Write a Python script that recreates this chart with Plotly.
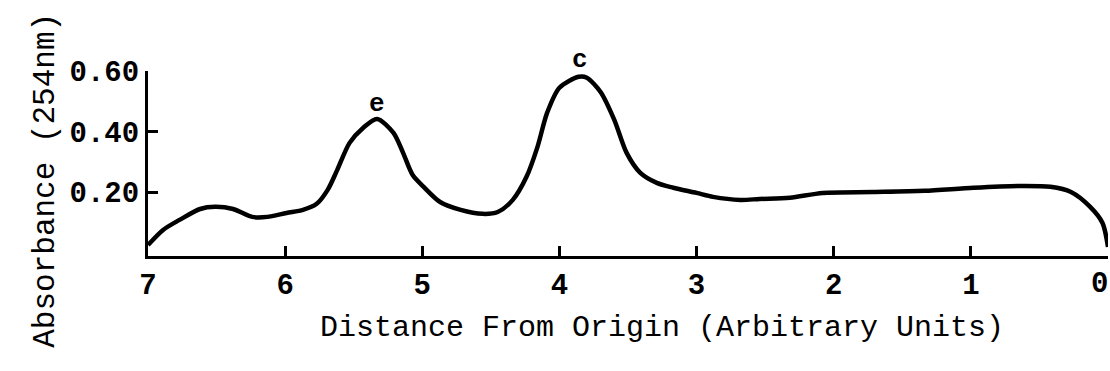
import plotly.graph_objects as go

# Densitometer trace (x = distance from origin, y = absorbance at 254 nm)
distance = [7.00, 6.89, 6.77, 6.62, 6.51, 6.38, 6.24, 6.13, 5.99, 5.87, 5.77, 5.69,
            5.62, 5.53, 5.43, 5.33, 5.21, 5.14, 5.07, 4.99, 4.87, 4.72, 4.56, 4.45,
            4.34, 4.24, 4.16, 4.09, 4.00, 3.86, 3.80, 3.70, 3.60, 3.51, 3.41, 3.29,
            3.17, 3.00, 2.88, 2.68, 2.54, 2.32, 2.08, 1.71, 1.34, 0.98, 0.62, 0.42,
            0.27, 0.13, 0.04, 0.00]
absorbance = [0.026, 0.076, 0.109, 0.145, 0.152, 0.145, 0.119, 0.119, 0.132, 0.142, 0.162, 0.208,
              0.274, 0.363, 0.413, 0.442, 0.396, 0.330, 0.257, 0.218, 0.168, 0.142, 0.129, 0.135,
              0.175, 0.251, 0.350, 0.462, 0.545, 0.581, 0.578, 0.531, 0.439, 0.330, 0.264, 0.231,
              0.215, 0.198, 0.185, 0.175, 0.178, 0.182, 0.198, 0.201, 0.205, 0.215, 0.221, 0.218,
              0.201, 0.152, 0.099, 0.020]

x_ticks = [7, 6, 5, 4, 3, 2, 1, 0]
y_ticks = [0.20, 0.40, 0.60]
y_tick_labels = ["0.20", "0.40", "0.60"]

peak_labels = ["e", "c"]
peak_x = [5.33, 3.85]
peak_y = [0.49, 0.635]

Y_RANGE = [-0.01, 0.60]
FONT = "Liberation Mono"

fig = go.Figure()
fig.add_trace(go.Scatter(
    x=distance, y=absorbance, mode="lines",
    line=dict(color="black", width=4.5, shape="spline", smoothing=0.8),
    hoverinfo="skip", showlegend=False, cliponaxis=False,
))

for lab, px, py in zip(peak_labels, peak_x, peak_y):
    fig.add_annotation(x=px, xref="x", yref="paper", yanchor="middle", xanchor="center",
                       y=(py - Y_RANGE[0]) / (Y_RANGE[1] - Y_RANGE[0]),
                       text="<b>" + lab + "</b>", showarrow=False,
                       font=dict(family=FONT, size=26, color="black"))

# the last tick label sits on the page edge
fig.add_annotation(x=x_ticks[-1], xref="x", xanchor="right", xshift=2,
                   y=-0.155, yref="paper", yanchor="middle",
                   text="<b>" + str(x_ticks[-1]) + "</b>", showarrow=False,
                   font=dict(family=FONT, size=29, color="black"))

fig.add_annotation(xref="paper", yref="paper", x=-0.127, y=0.41,
                   text="Absorbance (254nm)", textangle=-90, showarrow=False,
                   font=dict(family=FONT, size=31, color="black"))
fig.add_annotation(xref="paper", yref="paper", x=0.535, y=-0.49,
                   text="Distance From Origin (Arbitrary Units)", showarrow=False,
                   font=dict(family=FONT, size=30, color="black"))

fig.update_xaxes(
    range=[7.0, 0.0], tickvals=x_ticks,
    ticktext=["<b>%d</b>" % v if v != 0 else "" for v in x_ticks],
    ticks="inside", ticklen=10, tickwidth=3, tickcolor="black",
    showline=True, linecolor="black", linewidth=3, showgrid=False, zeroline=False,
    tickfont=dict(family=FONT, size=29, color="black"),
)
fig.update_yaxes(
    range=Y_RANGE, tickvals=y_ticks, ticktext=["<b>%s</b>" % t for t in y_tick_labels],
    ticks="inside", ticklen=10, tickwidth=3, tickcolor="black",
    showline=True, linecolor="black", linewidth=3, showgrid=False, zeroline=False,
    tickfont=dict(family=FONT, size=29, color="black"),
)
fig.update_layout(
    width=1110, height=371,
    margin=dict(l=148, r=2, t=71, b=115),
    paper_bgcolor="white", plot_bgcolor="white",
)
fig.write_html("out.html")
